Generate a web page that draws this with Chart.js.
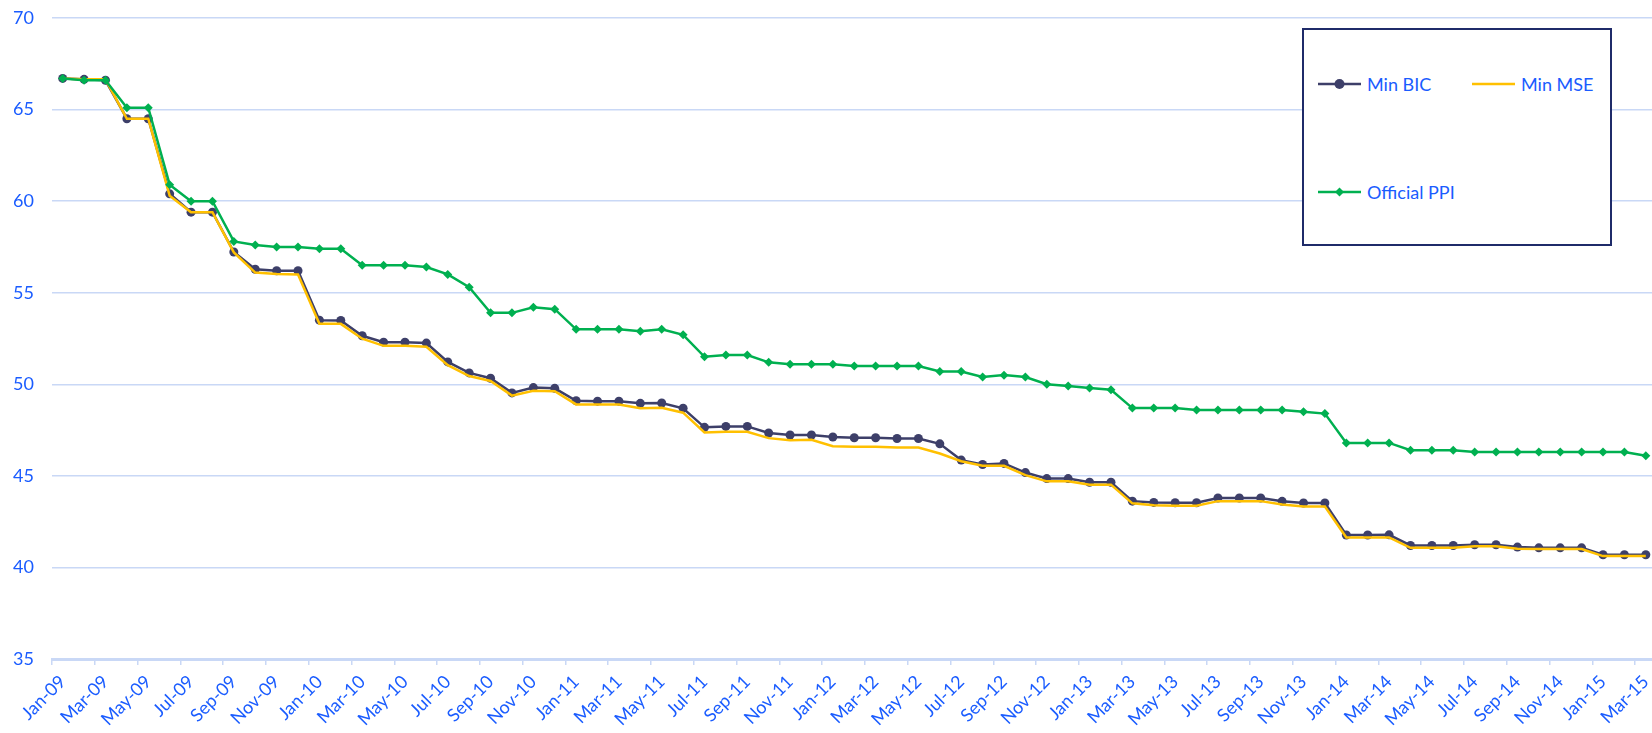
<!DOCTYPE html>
<html>
<head>
<meta charset="utf-8">
<script src="https://cdn.jsdelivr.net/npm/chart.js@4.4.1/dist/chart.umd.min.js"></script>
<style>
  html, body { margin: 0; padding: 0; background: #fff; overflow: hidden; }
  #wrap { position: absolute; left: 0; top: 0; width: 1661px; height: 733px; }
  #legend {
    position: absolute; left: 1302px; top: 28px; width: 306px; height: 214px;
    border: 2px solid #1f2b69; background: #fff;
    font-family: Lato, "Noto Sans", sans-serif; font-size: 18px; color: #1a5cff;
  }
  .item { position: absolute; display: flex; align-items: center; white-space: nowrap; }
  .item svg { margin-right: 6px; }
</style>
</head>
<body>
<div id="wrap">
  <canvas id="linechart" width="1661" height="733"></canvas>
  <div id="legend"></div>
</div>
<script>
(function () {
 "use strict";

	/*----------------------------------------*/
	/*  data
	/*----------------------------------------*/
	var months = ["Jan", "Feb", "Mar", "Apr", "May", "Jun", "Jul", "Aug", "Sep", "Oct", "Nov", "Dec"];
	var labels = [];
	for (var y = 9; y <= 15; y++) {
		for (var m = 0; m < 12; m++) {
			if (y === 15 && m > 2) break;
			labels.push(months[m] + "-" + (y < 10 ? "0" + y : y));
		}
	}

	var minBIC = [
		66.7, 66.65, 66.6, 64.5, 64.5, 60.4, 59.4, 59.4, 57.22, 56.28, 56.2, 56.2,
		53.5, 53.48, 52.65, 52.3, 52.3, 52.25, 51.22, 50.62, 50.33, 49.53, 49.82, 49.78,
		49.1, 49.08, 49.08, 48.96, 48.98, 48.69, 47.65, 47.7, 47.7, 47.34, 47.23, 47.23,
		47.12, 47.08, 47.08, 47.04, 47.04, 46.75, 45.86, 45.62, 45.68, 45.18, 44.85, 44.85,
		44.65, 44.65, 43.62, 43.55, 43.53, 43.53, 43.79, 43.79, 43.79, 43.61, 43.52, 43.52,
		41.77, 41.77, 41.78, 41.2, 41.2, 41.2, 41.24, 41.24, 41.11, 41.07, 41.07, 41.07,
		40.69, 40.69, 40.69
	];
	var minMSE = [
		66.7, 66.65, 66.65, 64.5, 64.5, 60.3, 59.4, 59.4, 57.2, 56.1, 56.02, 56.0,
		53.31, 53.3, 52.49, 52.1, 52.1, 52.05, 51.04, 50.45, 50.18, 49.38, 49.65, 49.62,
		48.9, 48.89, 48.89, 48.69, 48.72, 48.45, 47.37, 47.41, 47.41, 47.06, 46.95, 46.97,
		46.62, 46.59, 46.59, 46.55, 46.55, 46.22, 45.8, 45.55, 45.55, 45.04, 44.7, 44.7,
		44.52, 44.52, 43.5, 43.39, 43.37, 43.37, 43.62, 43.62, 43.62, 43.44, 43.33, 43.33,
		41.64, 41.64, 41.64, 41.07, 41.07, 41.07, 41.15, 41.15, 41.02, 41.0, 41.0, 41.0,
		40.62, 40.62, 40.62
	];
	var officialPPI = [
		66.7, 66.6, 66.6, 65.1, 65.1, 60.9, 60.0, 60.0, 57.8, 57.6, 57.5, 57.5,
		57.4, 57.4, 56.5, 56.5, 56.5, 56.4, 56.0, 55.3, 53.9, 53.9, 54.2, 54.1,
		53.0, 53.0, 53.0, 52.9, 53.0, 52.7, 51.5, 51.6, 51.6, 51.2, 51.1, 51.1,
		51.1, 51.0, 51.0, 51.0, 51.0, 50.7, 50.7, 50.4, 50.5, 50.4, 50.0, 49.9,
		49.8, 49.7, 48.7, 48.7, 48.7, 48.6, 48.6, 48.6, 48.6, 48.6, 48.5, 48.4,
		46.8, 46.8, 46.8, 46.4, 46.4, 46.4, 46.3, 46.3, 46.3, 46.3, 46.3, 46.3,
		46.3, 46.3, 46.1
	];
	var yTicks = [35, 40, 45, 50, 55, 60, 65, 70];

	var blueText = '#1a5cff';
	var gridBlue = '#c9d8f6';
	var font = { family: 'Lato, "Noto Sans", sans-serif', size: 18 };

	// scales keep their own label padding out of the layout
	function noPad(scale) {
		scale.paddingTop = 0;
		scale.paddingBottom = 0;
		scale.paddingLeft = 0;
		scale.paddingRight = 0;
	}

	/*----------------------------------------*/
	/*  line chart
	/*----------------------------------------*/
	var ctx = document.getElementById("linechart");
	var linechart = new Chart(ctx, {
		type: 'line',
		data: {
			labels: labels,
			datasets: [{
				label: 'Min BIC',
				data: minBIC,
				borderColor: '#3d3f69',
				backgroundColor: '#3d3f69',
				borderWidth: 2.5,
				pointStyle: 'circle',
				pointRadius: 4.5,
				pointBorderWidth: 0,
				order: 3
			}, {
				label: 'Min MSE',
				data: minMSE,
				borderColor: '#ffc000',
				backgroundColor: '#ffc000',
				borderWidth: 2.5,
				pointRadius: 0,
				order: 2
			}, {
				label: 'Official PPI',
				data: officialPPI,
				borderColor: '#00b050',
				backgroundColor: '#00b050',
				borderWidth: 2.5,
				pointStyle: 'rectRot',
				pointRadius: 4.5,
				pointBorderWidth: 0,
				order: 1
			}]
		},
		options: {
			responsive: false,
			animation: false,
			layout: { padding: { top: 18, right: 0, bottom: 0, left: 0 } },
			elements: { line: { tension: 0 } },
			plugins: {
				legend: { display: false },
				tooltip: { enabled: false }
			},
			scales: {
				x: {
					offset: true,
					afterFit: function (scale) { scale.height = 74; noPad(scale); },
					border: { display: true, color: gridBlue, width: 3 },
					grid: {
						offset: true,
						drawOnChartArea: false,
						drawTicks: true,
						tickLength: 6,
						lineWidth: 1.5,
						color: function (c) { return c.index % 2 === 0 ? gridBlue : 'rgba(0,0,0,0)'; }
					},
					ticks: {
						autoSkip: false,
						minRotation: 45,
						maxRotation: 45,
						padding: 6,
						color: blueText,
						font: { family: font.family, size: 18 },
						callback: function (v, i) { return i % 2 === 0 ? labels[i] : ''; }
					}
				},
				y: {
					min: 35,
					max: 70,
					afterFit: function (scale) { scale.width = 52; noPad(scale); },
					afterBuildTicks: function (scale) {
						scale.ticks = yTicks.map(function (v) { return { value: v }; });
					},
					border: { display: false },
					grid: { color: gridBlue, lineWidth: 1.5, drawTicks: false },
					ticks: { padding: 18, color: blueText, font: font }
				}
			}
		}
	});

	/*----------------------------------------*/
	/*  legend box
	/*----------------------------------------*/
	var legend = document.getElementById("legend");
	var spots = [[14, 54], [168, 54], [14, 162]];
	linechart.data.datasets.forEach(function (ds, i) {
		var item = document.createElement('div');
		item.className = 'item';
		item.style.left = spots[i][0] + 'px';
		item.style.top = (spots[i][1] - 12) + 'px';
		var mark = '';
		if (ds.pointRadius > 0 && ds.pointStyle === 'circle') {
			mark = '<circle cx="21.5" cy="12" r="5" fill="' + ds.borderColor + '"/>';
		} else if (ds.pointRadius > 0) {
			mark = '<polygon points="21.5,7.5 26,12 21.5,16.5 17,12" fill="' + ds.borderColor + '"/>';
		}
		item.innerHTML = '<svg width="43" height="24"><line x1="0" y1="12" x2="43" y2="12" stroke="' +
			ds.borderColor + '" stroke-width="2.5"/>' + mark + '</svg><span>' + ds.label + '</span>';
		legend.appendChild(item);
	});
})();
</script>
</body>
</html>
